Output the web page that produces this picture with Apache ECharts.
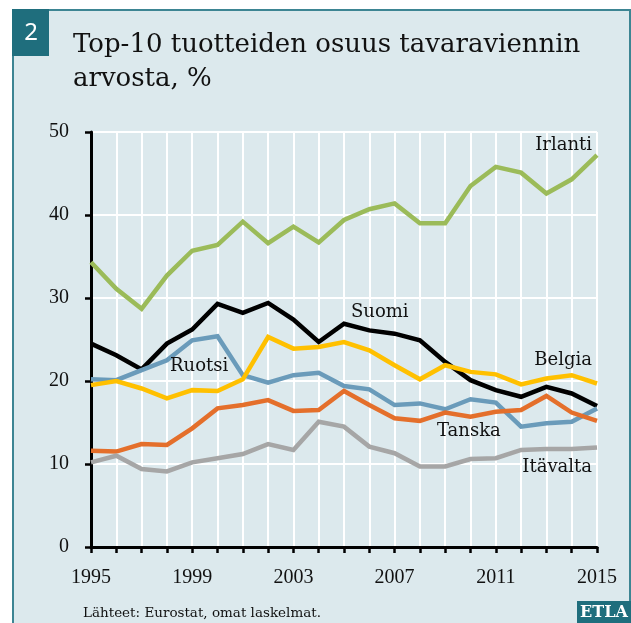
<!DOCTYPE html>
<html>
<head>
<meta charset="utf-8">
<script src="https://cdn.jsdelivr.net/npm/echarts@6/dist/echarts.min.js"></script>
<style>
  html, body { margin: 0; padding: 0; background: #ffffff; }
  #chart { width: 631px; height: 623px; }
</style>
</head>
<body>
<div id="chart"></div>
<script>
const years = ['1995', '1996', '1997', '1998', '1999', '2000', '2001', '2002', '2003', '2004', '2005',
  '2006', '2007', '2008', '2009', '2010', '2011', '2012', '2013', '2014', '2015']

const irlanti = [34.3, 31.1, 28.7, 32.7, 35.7, 36.4, 39.2, 36.6, 38.6, 36.7, 39.4, 40.7, 41.4, 39.0, 39.0, 43.5, 45.8, 45.1, 42.6, 44.3, 47.2]
const suomi = [24.5, 23.1, 21.4, 24.5, 26.2, 29.3, 28.2, 29.4, 27.4, 24.7, 26.9, 26.1, 25.7, 24.9, 22.3, 20.1, 18.9, 18.1, 19.3, 18.5, 17.0]
const belgia = [19.5, 20.0, 19.1, 17.9, 18.9, 18.8, 20.2, 25.3, 23.9, 24.1, 24.7, 23.7, 21.9, 20.2, 21.9, 21.1, 20.8, 19.6, 20.3, 20.7, 19.7]
const ruotsi = [20.2, 20.1, 21.3, 22.5, 24.9, 25.4, 20.7, 19.8, 20.7, 21.0, 19.4, 19.0, 17.1, 17.3, 16.6, 17.8, 17.4, 14.5, 14.9, 15.1, 16.7]
const tanska = [11.6, 11.5, 12.4, 12.3, 14.3, 16.7, 17.1, 17.7, 16.4, 16.5, 18.8, 17.1, 15.5, 15.2, 16.2, 15.7, 16.3, 16.5, 18.2, 16.2, 15.2]
const itavalta = [10.2, 11.0, 9.4, 9.1, 10.2, 10.7, 11.2, 12.4, 11.7, 15.1, 14.5, 12.1, 11.3, 9.7, 9.7, 10.6, 10.7, 11.7, 11.8, 11.8, 12.0]

const teal = '#1f6e7d'
const serif = 'DejaVu Serif'
const numFont = 'Liberation Serif'

const chart = echarts.init(document.getElementById('chart'))

function line(name, data, color) {
  return {
    name: name,
    type: 'line',
    data: data,
    showSymbol: false,
    symbol: 'none',
    lineStyle: { color: color, width: 4.5, join: 'miter' },
    itemStyle: { color: color }
  }
}

function label(text, x, y, align) {
  return {
    type: 'text',
    x: x,
    y: y,
    style: {
      text: text,
      fill: '#111',
      font: '18px "' + serif + '"',
      align: align || 'left',
      verticalAlign: 'middle'
    },
    z: 20
  }
}

chart.setOption({
  animation: false,
  backgroundColor: '#ffffff',
  grid: {
    left: 91,
    right: 34,
    top: 132,
    bottom: 76
  },
  xAxis: {
    type: 'category',
    data: years,
    boundaryGap: false,
    axisLine: { lineStyle: { color: '#000', width: 3 } },
    axisTick: { show: true, interval: 0, length: 6, lineStyle: { color: '#000', width: 2.5 } },
    axisLabel: {
      interval: 3,
      margin: 21,
      color: '#111',
      fontFamily: numFont,
      fontSize: 20
    },
    splitLine: { show: true, interval: 0, lineStyle: { color: '#ffffff', width: 2 } }
  },
  yAxis: {
    type: 'value',
    min: 0,
    max: 50,
    interval: 10,
    axisLine: { show: true, lineStyle: { color: '#000', width: 3 } },
    axisTick: { show: true, length: 6, lineStyle: { color: '#000', width: 2.5 } },
    axisLabel: {
      margin: 22,
      color: '#111',
      fontFamily: numFont,
      fontSize: 20
    },
    splitLine: { show: true, lineStyle: { color: '#ffffff', width: 2 } }
  },
  graphic: [
    // panel background and frame
    {
      type: 'rect',
      shape: { x: 13, y: 10, width: 617, height: 640 },
      style: { fill: '#dce9ed', stroke: '#3d8593', lineWidth: 2 },
      z: -10,
      silent: true
    },
    {
      type: 'rect',
      shape: { x: 12, y: 9, width: 37, height: 47 },
      style: { fill: teal },
      z: 5
    },
    {
      type: 'text',
      x: 31,
      y: 33,
      style: { text: '2', fill: '#ffffff', font: '24px "Noto Sans"', align: 'center', verticalAlign: 'middle' },
      z: 6
    },
    {
      type: 'text',
      x: 73,
      y: 45,
      style: { text: 'Top-10 tuotteiden osuus tavaraviennin', fill: '#111', font: '26px "' + serif + '"', verticalAlign: 'middle' }
    },
    {
      type: 'text',
      x: 73,
      y: 79,
      style: { text: 'arvosta, %', fill: '#111', font: '26px "' + serif + '"', verticalAlign: 'middle' }
    },
    {
      type: 'text',
      x: 83,
      y: 613,
      style: { text: 'Lähteet: Eurostat, omat laskelmat.', fill: '#111', font: '13.5px "' + serif + '"', verticalAlign: 'middle' }
    },
    {
      type: 'rect',
      shape: { x: 577, y: 601, width: 60, height: 30 },
      style: { fill: teal },
      z: 5
    },
    {
      type: 'text',
      x: 604,
      y: 613,
      style: { text: 'ETLA', fill: '#ffffff', font: 'bold 16px "' + serif + '"', align: 'center', verticalAlign: 'middle' },
      z: 6
    },
    label('Irlanti', 592, 145, 'right'),
    label('Suomi', 351, 312),
    label('Belgia', 592, 360, 'right'),
    label('Ruotsi', 170, 366),
    label('Tanska', 437, 431),
    label('Itävalta', 592, 467, 'right')
  ],
  series: [
    line('Suomi', suomi, '#000000'),
    line('Ruotsi', ruotsi, '#6a9bba'),
    line('Belgia', belgia, '#ffc000'),
    line('Tanska', tanska, '#e46f2b'),
    line('Itävalta', itavalta, '#a6a6a6'),
    line('Irlanti', irlanti, '#9bbb59')
  ]
})
</script>
</body>
</html>
